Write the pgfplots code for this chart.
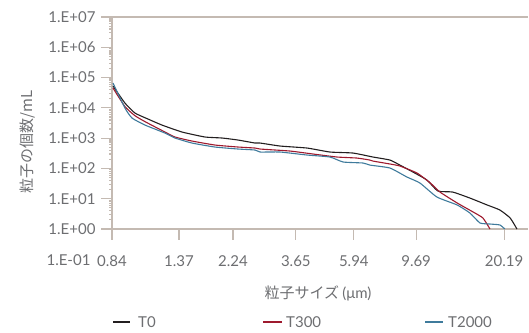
\documentclass[border=0pt]{standalone}
\usepackage{pgfplots}
\pgfplotsset{compat=1.18}
\usepackage{fontspec}
\setmainfont{Lato}
\newfontfamily\jp{Noto Sans CJK JP}
\definecolor{axisc}{HTML}{C4BAB2}
\definecolor{txt}{HTML}{6D6E71}
\definecolor{cT0}{HTML}{231F20}
\definecolor{cT300}{HTML}{9E1A2E}
\definecolor{cT2000}{HTML}{3F7B9C}
\begin{document}
\begin{tikzpicture}[x=1pt,y=1pt]
\begin{axis}[
  at={(0,0)}, anchor=south west,
  scale only axis, width=416pt, height=212pt,
  xmode=log, ymode=log,
  xmin=0.84, xmax=24.5, ymin=1, ymax=1e7,
  axis x line*=box, axis y line*=left,
  axis line style={draw=axisc, line width=2.2pt},
  tick style={draw=axisc, line width=1.2pt},
  tick align=outside,
  major tick length=11pt,
  minor tick num=0,
  xtick pos=bottom, ytick pos=left,
  xtick={0.84,1.445,2.24,3.73,5.97,9.89,20.19},
  xticklabels={0.84,1.37,2.24,3.65,5.94,9.69,20.19},
  ytick={1,10,100,1000,10000,100000,1000000,10000000},
  yticklabels={1.E+00,1.E+01,1.E+02,1.E+03,1.E+04,1.E+05,1.E+06,1.E+07},
  ticklabel style={font=\fontsize{15}{17}\selectfont, text=txt},
  xticklabel style={anchor=center, yshift=-21pt},
  yticklabel style={anchor=east, xshift=-2pt},
  clip=false,
]
\addplot[cT0, line width=1.1pt, smooth, tension=0.3] coordinates {
(0.847,52400) (0.933,14400) (1.012,6730) (1.125,4270) (1.260,2700)
(1.483,1590) (1.786,1090) (2.051,1010) (2.335,865) (2.680,689)
(2.792,689) (3.282,549) (4.084,471) (4.920,348) (5.93,322)
(6.97,238) (8.00,189) (8.67,129) (9.64,76) (10.8,41.4)
(11.8,17.9) (13.3,16.6) (15.3,10.5) (17.6,6.2) (19.5,4.24)
(21.2,2.31) (22.4,1.0)
};
\addplot[cT300, line width=1.1pt, smooth, tension=0.3] coordinates {
(0.847,45000) (0.933,11000) (1.012,5500) (1.098,3500) (1.291,1590)
(1.400,1090) (1.607,802) (1.936,592) (2.335,509) (2.680,471)
(2.792,437) (3.557,375) (4.288,299) (5.212,238) (6.12,220)
(6.80,189) (6.97,175) (8.00,140) (8.67,120) (9.96,70.5)
(11.1,33) (12.0,16.6) (13.8,7.21) (15.7,3.64) (17.0,2.31) (18.0,1.0)
};
\addplot[cT2000, line width=1.1pt, smooth, tension=0.3] coordinates {
(0.847,65800) (0.933,9840) (0.988,4610) (1.098,2700) (1.291,1470)
(1.400,1010) (1.607,689) (1.936,509) (2.335,437) (2.680,405)
(2.792,348) (3.282,348) (4.084,277) (4.920,238) (5.47,163)
(6.43,151) (6.80,129) (8.00,103) (9.18,52) (10.2,33)
(11.7,11.4) (13.8,6.2) (15.3,3.37) (16.6,1.58) (18.0,1.46)
(19.5,1.36) (20.3,1.0)
};
\end{axis}
\begin{scope}[every node/.style={text=txt, font=\fontsize{15}{17}\selectfont}]
\node at (-43.5pt,-31pt) {1.E-01};
\node[rotate=90] at (-84pt,87pt) {\jp 粒子の個数/mL};
\node at (206pt,-64pt) {\jp 粒子サイズ\ \fontspec{Lato}(μm)};
\draw[cT0, line width=1.2pt] (1pt,-93pt) -- (18pt,-93pt);
\node[anchor=west, inner sep=0pt] at (26pt,-93pt) {T0};
\draw[cT300, line width=1.2pt] (151pt,-93pt) -- (170pt,-93pt);
\node[anchor=west, inner sep=0pt] at (174pt,-93pt) {T300};
\draw[cT2000, line width=1.2pt] (313pt,-93pt) -- (331pt,-93pt);
\node[anchor=west, inner sep=0pt] at (336pt,-93pt) {T2000};
\end{scope}
\pgfresetboundingbox
\path (-112pt,-103pt) rectangle (417pt,229pt);
\end{tikzpicture}
\end{document}
